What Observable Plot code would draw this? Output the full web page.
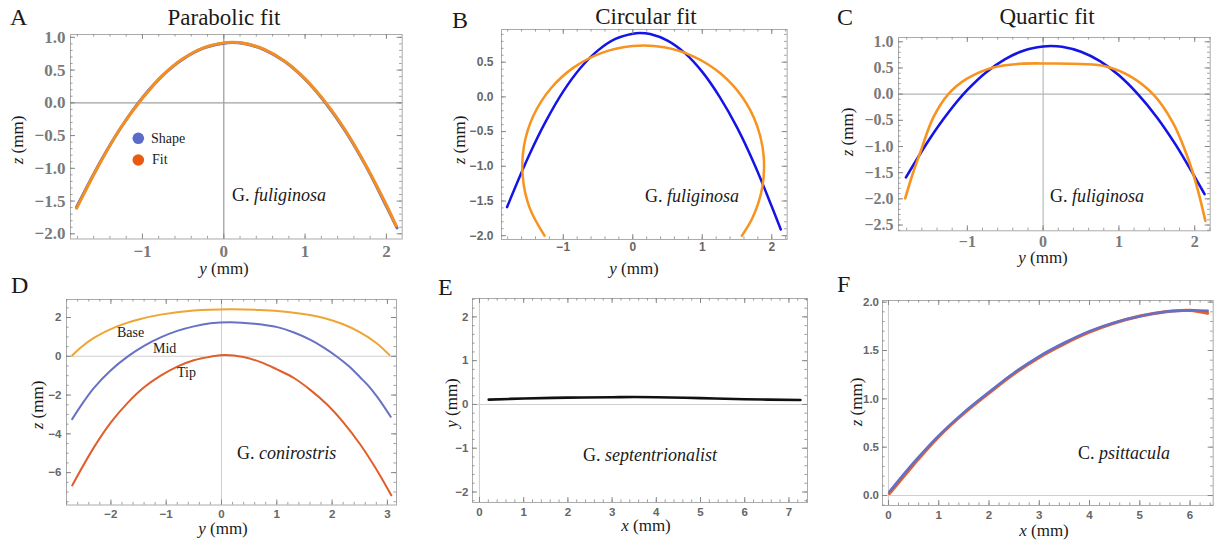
<!DOCTYPE html>
<html><head><meta charset="utf-8">
<script src="https://cdn.jsdelivr.net/npm/d3@7"></script>
<script src="https://cdn.jsdelivr.net/npm/@observablehq/plot@0.6"></script>
<style>
body{margin:0;background:#fff;}
#fig{position:relative;width:1214px;height:543px;overflow:hidden;background:#fff;}
</style></head><body><div id="fig"></div>
<script>
// ---------- DATA ----------
// Panel A: shape of G. fuliginosa and parabolic fit
const shapeY = [-1.81, -1.5, -1.25, -1.0, -0.75, -0.5, -0.25, 0.0, 0.1, 0.25, 0.5, 0.75, 1.0, 1.25, 1.5, 1.75, 2.0, 2.13];
const shapeZ = [-1.59, -0.86, -0.35, 0.08, 0.42, 0.67, 0.835, 0.91, 0.92, 0.905, 0.81, 0.63, 0.36, 0.0, -0.44, -0.97, -1.58, -1.91];
const parabolaY = [-1.81, -1.5, -1.25, -1.0, -0.75, -0.5, -0.25, 0.0, 0.1, 0.25, 0.5, 0.75, 1.0, 1.25, 1.5, 1.75, 2.0, 2.12];
const parabolaZ = [-1.61, -0.87, -0.35, 0.07, 0.42, 0.675, 0.84, 0.915, 0.925, 0.91, 0.815, 0.635, 0.365, 0.01, -0.43, -0.96, -1.56, -1.88];
// Panel B: circular fit
const circleY = [-1.27, -1.485, -1.583, -1.564, -1.427, -1.183, -0.848, -0.445, -0.002, 0.452, 0.885, 1.268, 1.575, 1.785, 1.883, 1.864, 1.727, 1.57];
const circleZ = [-2.0, -1.595, -1.152, -0.698, -0.265, 0.118, 0.425, 0.635, 0.733, 0.714, 0.577, 0.333, -0.002, -0.405, -0.848, -1.302, -1.735, -2.0];
// Panel C: quartic fit
const quarticY = [-1.82, -1.72, -1.62, -1.45, -1.25, -1.01, -0.66, -0.3, 0.1, 0.5, 0.83, 1.14, 1.45, 1.71, 1.93, 2.05, 2.14];
const quarticZ = [-1.99, -1.52, -1.11, -0.45, 0.0, 0.29, 0.51, 0.58, 0.585, 0.575, 0.53, 0.35, 0.0, -0.54, -1.30, -1.88, -2.42];
// Panel D: G. conirostris cross-sections
const baseY = [-2.70, -2.55, -2.3, -1.9, -1.5, -1.1, -0.5, 0.15, 0.7, 1.2, 1.6, 1.9, 2.2, 2.5, 2.8, 3.04];
const baseZ = [0.04, 0.445, 0.96, 1.53, 1.90, 2.15, 2.36, 2.425, 2.39, 2.285, 2.13, 1.94, 1.655, 1.25, 0.69, 0.06];
const midY = [-2.70, -2.55, -2.31, -2.01, -1.68, -1.4, -1.1, -0.8, -0.5, -0.2, 0.16, 0.6, 1.01, 1.3, 1.61, 1.85, 2.09, 2.3, 2.51, 2.65, 2.82, 3.06];
const midZ = [-3.24, -2.58, -1.64, -0.74, 0.02, 0.54, 0.975, 1.31, 1.545, 1.70, 1.76, 1.68, 1.505, 1.24, 0.845, 0.45, -0.02, -0.50, -1.09, -1.50, -2.11, -3.12];
const tipY = [-2.70, -2.31, -2.0, -1.71, -1.4, -1.1, -0.8, -0.5, -0.2, 0.07, 0.4, 0.71, 1.0, 1.31, 1.6, 1.91, 2.2, 2.51, 2.8, 3.07];
const tipZ = [-6.66, -4.71, -3.41, -2.44, -1.60, -1.0, -0.53, -0.20, -0.02, 0.07, -0.04, -0.30, -0.67, -1.12, -1.72, -2.49, -3.39, -4.55, -5.83, -7.17];
// Panel E: G. septentrionalist
const septX = [0.21, 1, 2, 3, 3.5, 4, 5, 6, 7.26];
const septY = [0.11, 0.135, 0.155, 0.165, 0.17, 0.165, 0.145, 0.12, 0.10];
// Panel F: C. psittacula
const psittX = [0.02, 0.5, 1, 1.5, 2, 2.5, 3, 3.5, 4, 4.5, 5, 5.5, 6, 6.35];
const psittShapeZ = [0.04, 0.34, 0.62, 0.86, 1.07, 1.27, 1.44, 1.58, 1.70, 1.79, 1.855, 1.90, 1.915, 1.91];
const psittFitZ = [0.02, 0.32, 0.61, 0.85, 1.06, 1.26, 1.43, 1.57, 1.69, 1.785, 1.855, 1.90, 1.915, 1.885];
// Tick labels
const ticksA_x = [-1, 0, 1, 2], ticksA_y = [1, 0.5, 0, -0.5, -1, -1.5, -2];
const ticksB_x = [-1, 0, 1, 2], ticksB_y = [0.5, 0, -0.5, -1, -1.5, -2];
const ticksC_x = [-1, 0, 1, 2], ticksC_y = [1, 0.5, 0, -0.5, -1, -1.5, -2, -2.5];
const ticksD_x = [-2, -1, 0, 1, 2, 3], ticksD_y = [2, 0, -2, -4, -6];
const ticksE_x = [0, 1, 2, 3, 4, 5, 6, 7], ticksE_y = [2, 1, 0, -1, -2];
const ticksF_x = [0, 1, 2, 3, 4, 5, 6], ticksF_y = [0, 0.5, 1, 1.5, 2];

// ---------- RENDER ----------
const fig = document.getElementById("fig");
const serif = "'Liberation Serif', 'Times New Roman', serif";
const sans = "'Liberation Sans', Arial, sans-serif";
const rows = (xs, ys) => xs.map((x, i) => ({x, y: ys[i]}));
const minorTicks = ([a, b], step) => d3.range(Math.ceil(a / step - 1e-9), Math.floor(b / step + 1e-9) + 1).map(k => +(k * step).toFixed(6));
const f1 = d3.format(".1f"), fd = d3.format("d");

function panel(c) {
  const {L, R, T, B} = c.frame;
  const fw = R - L, fh = B - T;
  const pL = 80, pR = 8, pT = 8, pB = 40;
  const tc = c.tickColor || "#888";
  const xm = minorTicks(c.xDomain, c.xMinor), ym = minorTicks(c.yDomain, c.yMinor);
  const marks = [];
  if (c.zero) {
    marks.push(Plot.ruleY([0], {stroke: c.zeroColor, strokeWidth: c.zeroWidth || 1}));
    marks.push(Plot.ruleX([0], {stroke: c.zeroColor, strokeWidth: c.zeroWidth || 1}));
  }
  marks.push(...c.marks);
  marks.push(Plot.frame({stroke: c.frameColor || "#aaa"}));
  const maj = 5, mnr = 2.6;
  marks.push(
    Plot.tickX(xm, {x: d => d, insetTop: fh - mnr, stroke: tc, strokeWidth: 0.8}),
    Plot.tickX(xm, {x: d => d, insetBottom: fh - mnr, stroke: tc, strokeWidth: 0.8}),
    Plot.tickY(ym, {y: d => d, insetRight: fw - mnr, stroke: tc, strokeWidth: 0.8}),
    Plot.tickY(ym, {y: d => d, insetLeft: fw - mnr, stroke: tc, strokeWidth: 0.8}),
    Plot.tickX(c.xTicks, {x: d => d, insetTop: fh - maj, stroke: tc}),
    Plot.tickX(c.xTicks, {x: d => d, insetBottom: fh - maj, stroke: tc}),
    Plot.tickY(c.yTicks, {y: d => d, insetRight: fw - maj, stroke: tc}),
    Plot.tickY(c.yTicks, {y: d => d, insetLeft: fw - maj, stroke: tc}),
    Plot.axisX(c.xTicks, {anchor: "bottom", tickSize: 0, tickPadding: c.xPad, tickFormat: c.xFormat, label: null,
      fontFamily: c.font, fontSize: c.fontSize, fontWeight: "bold", color: c.labelColor}),
    Plot.axisY(c.yTicks, {anchor: "left", tickSize: 0, tickPadding: c.yPad, tickFormat: c.yFormat, label: null,
      fontFamily: c.font, fontSize: c.fontSize, fontWeight: "bold", color: c.labelColor})
  );
  const svg = Plot.plot({
    width: fw + pL + pR, height: fh + pT + pB,
    marginLeft: pL, marginRight: pR, marginTop: pT, marginBottom: pB,
    x: {domain: c.xDomain}, y: {domain: c.yDomain},
    style: {background: "transparent", overflow: "visible"},
    marks
  });
  svg.style.position = "absolute";
  svg.style.left = (L - pL) + "px";
  svg.style.top = (T - pT) + "px";
  svg.style.maxWidth = "none";
  fig.appendChild(svg);
}

const line = (xs, ys, stroke, w) => Plot.line(rows(xs, ys), {x: "x", y: "y", stroke, strokeWidth: w, curve: "catmull-rom"});

// A
panel({frame: {L: 70, R: 401.7, T: 34, B: 238.5}, xDomain: [-1.885, 2.194], yDomain: [-2.079, 1.043],
  xTicks: ticksA_x, yTicks: ticksA_y, xMinor: 0.2, yMinor: 0.1, xFormat: fd, yFormat: f1,
  font: serif, fontSize: 17, labelColor: "#7a7a7a", xPad: 5.5, yPad: 5,
  zero: true, zeroColor: "#a0a0a0", zeroWidth: 1.3, frameColor: "#aaa",
  marks: [line(shapeY, shapeZ, "#5b6bc8", 3), line(parabolaY, parabolaZ, "#f28e22", 3)]});
// B
panel({frame: {L: 501, R: 786.7, T: 29.3, B: 239.3}, xDomain: [-1.889, 2.222], yDomain: [-2.055, 0.971],
  xTicks: ticksB_x, yTicks: ticksB_y, xMinor: 0.2, yMinor: 0.1, xFormat: fd, yFormat: f1,
  font: sans, fontSize: 12, labelColor: "#666", xPad: 3, yPad: 8,
  zero: false, frameColor: "#aaa",
  marks: [line(shapeY, shapeZ, "#1414e6", 2.5), line(circleY, circleZ, "#f7931e", 2.5)]});
// C
panel({frame: {L: 898.3, R: 1210, T: 36.7, B: 230}, xDomain: [-1.908, 2.204], yDomain: [-2.61, 1.082],
  xTicks: ticksC_x, yTicks: ticksC_y, xMinor: 0.2, yMinor: 0.1, xFormat: fd, yFormat: f1,
  font: serif, fontSize: 16, labelColor: "#7a7a7a", xPad: 5, yPad: 5,
  zero: true, zeroColor: "#b5b5b5", zeroWidth: 1.1, frameColor: "#aaa",
  marks: [line(shapeY, shapeZ, "#1414e6", 2.6), line(quarticY, quarticZ, "#f7931e", 2.6)]});
// D
panel({frame: {L: 66, R: 396, T: 298.5, B: 504}, xDomain: [-2.803, 3.165], yDomain: [-7.67, 2.93],
  xTicks: ticksD_x, yTicks: ticksD_y, xMinor: 0.2, yMinor: 0.5, xFormat: fd, yFormat: fd,
  font: sans, fontSize: 11.5, labelColor: "#666", xPad: 5, yPad: 5,
  zero: true, zeroColor: "#cfcfcf", zeroWidth: 1.1, frameColor: "#aaa",
  marks: [line(baseY, baseZ, "#eea532", 2), line(midY, midZ, "#6672c6", 2), line(tipY, tipZ, "#e05e29", 2)]});
// E
panel({frame: {L: 472, R: 807, T: 298, B: 502}, xDomain: [-0.158, 7.42], yDomain: [-2.24, 2.42],
  xTicks: ticksE_x, yTicks: ticksE_y, xMinor: 0.2, yMinor: 0.2, xFormat: fd, yFormat: fd,
  font: sans, fontSize: 11.5, labelColor: "#666", xPad: 5, yPad: 4,
  zero: true, zeroColor: "#cfcfcf", zeroWidth: 1.1, frameColor: "#aaa",
  marks: [line(septX, septY, "#111", 2.6)]});
// F
panel({frame: {L: 882.3, R: 1213, T: 300, B: 505}, xDomain: [-0.119, 6.46], yDomain: [-0.103, 2.017],
  xTicks: ticksF_x, yTicks: ticksF_y, xMinor: 0.2, yMinor: 0.1, xFormat: fd, yFormat: f1,
  font: sans, fontSize: 11.5, labelColor: "#666", xPad: 5.5, yPad: 3.5,
  zero: true, zeroColor: "#cfcfcf", zeroWidth: 1.1, frameColor: "#aaa",
  marks: [line(psittX, psittFitZ, "#e8602a", 3.2), line(psittX, psittShapeZ, "#6370c8", 2.6)]});

// ---------- TEXT OVERLAY ----------
const ov = d3.select(fig).append("svg").attr("width", 1214).attr("height", 543)
  .style("position", "absolute").style("left", 0).style("top", 0).style("pointer-events", "none");
function label(x, y, parts, {size = 18, anchor = "start", family = serif, rotate = 0, fill = "#1a1a1a"} = {}) {
  const t = ov.append("text").attr("font-family", family).attr("font-size", size).attr("fill", fill).attr("text-anchor", anchor);
  if (rotate) t.attr("transform", `translate(${x},${y}) rotate(${rotate})`).attr("dy", "0.28em");
  else t.attr("x", x).attr("y", y);
  for (const p of parts) {
    const s = t.append("tspan").text(typeof p === "string" ? p : p.t);
    if (p.i) s.attr("font-style", "italic");
  }
}
// panel letters
label(10, 25, ["A"], {size: 24}); label(452, 28, ["B"], {size: 24}); label(837, 25, ["C"], {size: 24});
label(11, 293, ["D"], {size: 24}); label(438, 295, ["E"], {size: 24}); label(837, 292, ["F"], {size: 24});
// titles
label(224, 25, ["Parabolic fit"], {size: 23, anchor: "middle"});
label(646, 24, ["Circular fit"], {size: 23, anchor: "middle"});
label(1047, 24, ["Quartic fit"], {size: 23, anchor: "middle"});
// x-axis titles
label(224, 274, [{t: "y", i: 1}, " (mm)"], {size: 17, anchor: "middle"});
label(634, 274, [{t: "y", i: 1}, " (mm)"], {size: 17, anchor: "middle"});
label(1043, 263, [{t: "y", i: 1}, " (mm)"], {size: 17, anchor: "middle"});
label(223, 534, [{t: "y", i: 1}, " (mm)"], {size: 17, anchor: "middle"});
label(646, 531, [{t: "x", i: 1}, " (mm)"], {size: 17, anchor: "middle"});
label(1044, 536, [{t: "x", i: 1}, " (mm)"], {size: 17, anchor: "middle"});
// y-axis titles
label(18, 140, [{t: "z", i: 1}, " (mm)"], {size: 17, anchor: "middle", rotate: -90});
label(460, 140, [{t: "z", i: 1}, " (mm)"], {size: 17, anchor: "middle", rotate: -90});
label(848, 132, [{t: "z", i: 1}, " (mm)"], {size: 17, anchor: "middle", rotate: -90});
label(38, 405, [{t: "z", i: 1}, " (mm)"], {size: 17, anchor: "middle", rotate: -90});
label(452, 403, [{t: "y", i: 1}, " (mm)"], {size: 17, anchor: "middle", rotate: -90});
label(857, 402, [{t: "z", i: 1}, " (mm)"], {size: 17, anchor: "middle", rotate: -90});
// species labels
label(232, 201, ["G. ", {t: "fuliginosa", i: 1}], {size: 18});
label(645, 202, ["G. ", {t: "fuliginosa", i: 1}], {size: 18});
label(1050, 202, ["G. ", {t: "fuliginosa", i: 1}], {size: 18});
label(237, 459, ["G. ", {t: "conirostris", i: 1}], {size: 18});
label(583, 461, ["G. ", {t: "septentrionalist", i: 1}], {size: 18});
label(1078, 459, ["C. ", {t: "psittacula", i: 1}], {size: 18});
// legend in A
ov.append("circle").attr("cx", 138.3).attr("cy", 138.3).attr("r", 5.8).attr("fill", "#5b6bc8");
ov.append("circle").attr("cx", 138.3).attr("cy", 160).attr("r", 5.8).attr("fill", "#e85a10");
label(151, 142.7, ["Shape"], {size: 14});
label(152, 164, ["Fit"], {size: 14});
// curve labels in D
label(117, 337, ["Base"], {size: 14});
label(153, 353, ["Mid"], {size: 14});
label(177, 377, ["Tip"], {size: 14});
</script></body></html>
